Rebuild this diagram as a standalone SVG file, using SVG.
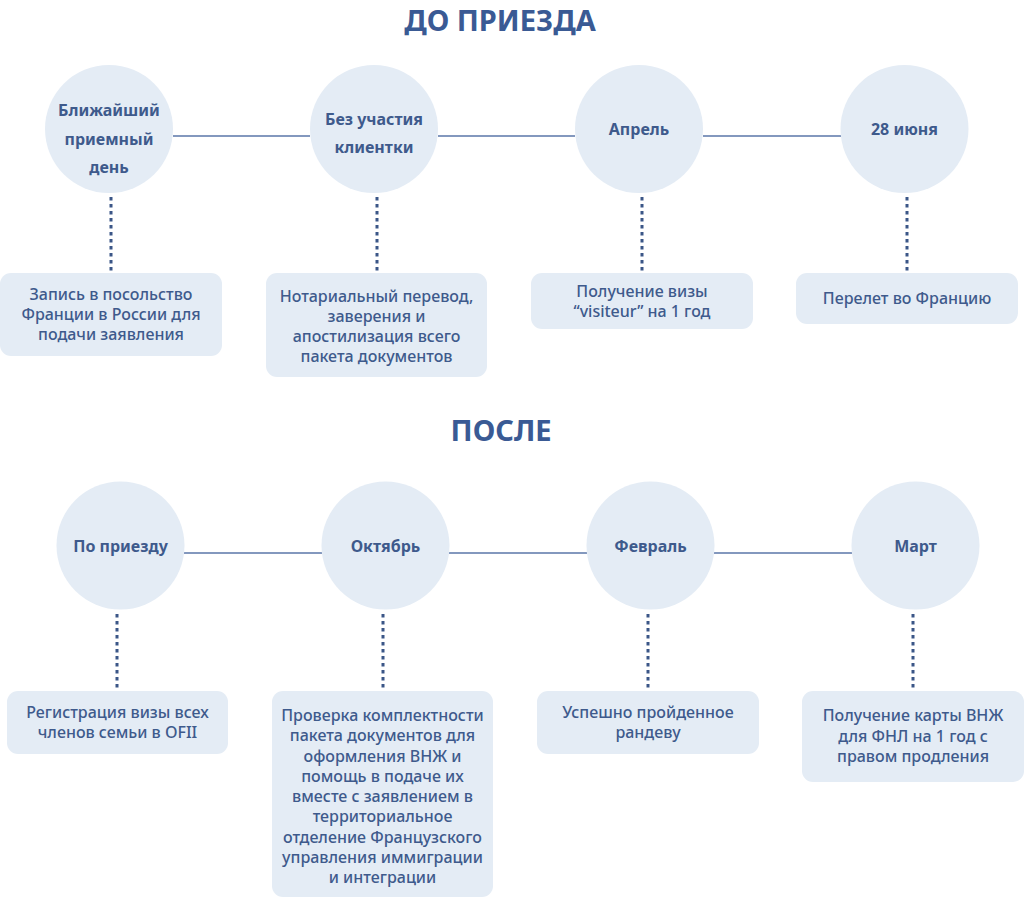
<svg xmlns="http://www.w3.org/2000/svg" width="1024" height="898" viewBox="0 0 1024 898">
<style>
.bg{fill:#ffffff}
.title{font-family:"Noto Sans","Liberation Sans",sans-serif;font-weight:700;font-size:29px;fill:#3A5A94;text-anchor:middle}
.circ{fill:#E4ECF5}
.clab{font-family:"Noto Sans","Liberation Sans",sans-serif;font-weight:700;font-size:16px;fill:#3E5A8C;text-anchor:middle}
.box{fill:#E4ECF5}
.btxt{font-family:"Noto Sans","Liberation Sans",sans-serif;font-weight:500;font-size:16px;fill:#3E5A8C;text-anchor:middle}
.link{stroke:#5A76A8;stroke-width:1.5;fill:none}
.dot{stroke:#3B5687;stroke-width:3;stroke-dasharray:3.5 3.5;fill:none}
</style>
<rect class="bg" x="0" y="0" width="1024" height="898"/>
<text class="title" x="500" y="31">ДО ПРИЕЗДА</text>
<text class="title" x="501" y="441">ПОСЛЕ</text>

<g id="connectors">
<line class="link" x1="173" y1="136" x2="310" y2="136"/>
<line class="link" x1="438" y1="136" x2="575" y2="136"/>
<line class="link" x1="703" y1="136" x2="841" y2="136"/>
<line class="link" x1="184" y1="553" x2="322" y2="553"/>
<line class="link" x1="449" y1="553" x2="587" y2="553"/>
<line class="link" x1="714" y1="553" x2="852" y2="553"/>
<line class="dot" x1="111" y1="197" x2="111" y2="271"/>
<line class="dot" x1="377" y1="197" x2="377" y2="271"/>
<line class="dot" x1="642" y1="197" x2="642" y2="271"/>
<line class="dot" x1="907" y1="197" x2="907" y2="271"/>
<line class="dot" x1="117" y1="614" x2="117" y2="689"/>
<line class="dot" x1="383" y1="614" x2="383" y2="689"/>
<line class="dot" x1="648" y1="614" x2="648" y2="689"/>
<line class="dot" x1="913" y1="614" x2="913" y2="689"/>
</g>

<g id="c1"><circle class="circ" cx="109" cy="129" r="64"/>
<text class="clab" x="109"><tspan x="109" y="116">Ближайший</tspan><tspan x="109" y="145">приемный</tspan><tspan x="109" y="173">день</tspan></text></g>
<g id="c2"><circle class="circ" cx="374" cy="129" r="64"/>
<text class="clab"><tspan x="374" y="125">Без участия</tspan><tspan x="374" y="153">клиентки</tspan></text></g>
<g id="c3"><circle class="circ" cx="639" cy="129" r="64"/>
<text class="clab" x="639" y="135">Апрель</text></g>
<g id="c4"><circle class="circ" cx="904.5" cy="129" r="64"/>
<text class="clab" x="904.5" y="135">28 июня</text></g>

<g id="b1"><rect class="box" x="0" y="273" width="222" height="83" rx="11"/>
<text class="btxt"><tspan x="111" y="300">Запись в посольство</tspan><tspan x="111" y="320">Франции в России для</tspan><tspan x="111" y="340">подачи заявления</tspan></text></g>
<g id="b2"><rect class="box" x="266" y="273" width="221" height="104" rx="11"/>
<text class="btxt"><tspan x="376.5" y="302">Нотариальный перевод,</tspan><tspan x="376.5" y="322">заверения и</tspan><tspan x="376.5" y="342">апостилизация всего</tspan><tspan x="376.5" y="362">пакета документов</tspan></text></g>
<g id="b3"><rect class="box" x="531" y="273" width="222" height="56" rx="11"/>
<text class="btxt"><tspan x="642" y="297">Получение визы</tspan><tspan x="642" y="317">“visiteur” на 1 год</tspan></text></g>
<g id="b4"><rect class="box" x="796" y="273" width="222" height="51" rx="11"/>
<text class="btxt" x="907" y="304">Перелет во Францию</text></g>

<g id="c5"><circle class="circ" cx="120.5" cy="545.5" r="64"/>
<text class="clab" x="120.5" y="552">По приезду</text></g>
<g id="c6"><circle class="circ" cx="385.5" cy="545.5" r="64"/>
<text class="clab" x="385.5" y="552">Октябрь</text></g>
<g id="c7"><circle class="circ" cx="650.5" cy="545.5" r="64"/>
<text class="clab" x="650.5" y="552">Февраль</text></g>
<g id="c8"><circle class="circ" cx="915.5" cy="545.5" r="64"/>
<text class="clab" x="915.5" y="552">Март</text></g>

<g id="b5"><rect class="box" x="7" y="691" width="221" height="63" rx="11"/>
<text class="btxt"><tspan x="117.5" y="718">Регистрация визы всех</tspan><tspan x="117.5" y="738">членов семьи в OFII</tspan></text></g>
<g id="b6"><rect class="box" x="272" y="691" width="221" height="206" rx="11"/>
<text class="btxt"><tspan x="382.5" y="721">Проверка комплектности</tspan><tspan x="382.5" y="741.25">пакета документов для</tspan><tspan x="382.5" y="761.5">оформления ВНЖ и</tspan><tspan x="382.5" y="781.75">помощь в подаче их</tspan><tspan x="382.5" y="802">вместе с заявлением в</tspan><tspan x="382.5" y="822.25">территориальное</tspan><tspan x="382.5" y="842.5">отделение Французского</tspan><tspan x="382.5" y="862.75">управления иммиграции</tspan><tspan x="382.5" y="883">и интеграции</tspan></text></g>
<g id="b7"><rect class="box" x="537" y="691" width="222" height="63" rx="11"/>
<text class="btxt"><tspan x="648" y="718">Успешно пройденное</tspan><tspan x="648" y="738">рандеву</tspan></text></g>
<g id="b8"><rect class="box" x="802" y="691" width="222" height="91" rx="11"/>
<text class="btxt"><tspan x="913" y="721">Получение карты ВНЖ</tspan><tspan x="913" y="741.5">для ФНЛ на 1 год с</tspan><tspan x="913" y="762">правом продления</tspan></text></g>
</svg>
